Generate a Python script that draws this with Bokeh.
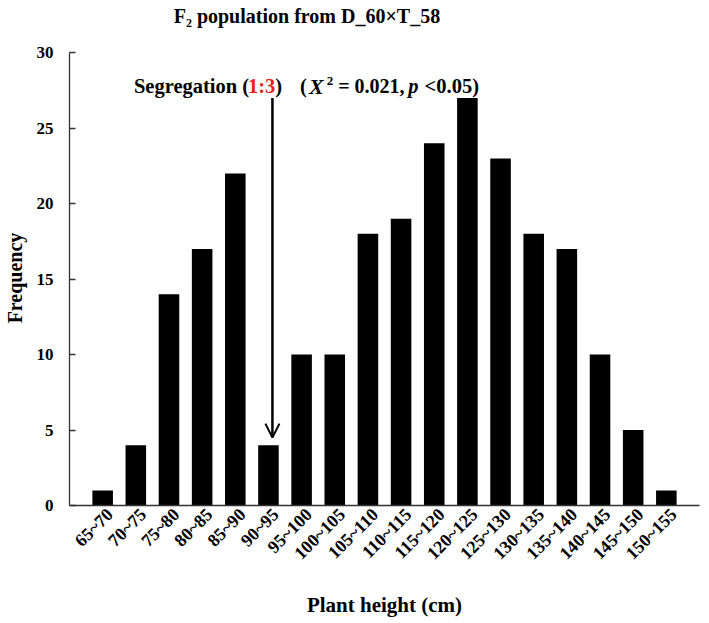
import math
from bokeh.plotting import figure
from bokeh.models import Range1d, FixedTicker, Label, Arrow, OpenHead, ColumnDataSource
from bokeh.embed import file_html
from bokeh.resources import INLINE

categories = ["65~70", "70~75", "75~80", "80~85", "85~90", "90~95", "95~100",
              "100~105", "105~110", "110~115", "115~120", "120~125", "125~130",
              "130~135", "135~140", "140~145", "145~150", "150~155"]
frequency = [1, 4, 14, 17, 22, 4, 10, 10, 18, 19, 24, 27, 23, 18, 17, 10, 5, 1]
y_ticks = [0, 5, 10, 15, 20, 25, 30]
title_text = "F\u2082 population from D_60\u00d7T_58"
x_label = "Plant height (cm)"
y_label = "Frequency"
arrow_category = "90~95"

FONT = "Liberation Serif"

positions = [i + 1 for i in range(len(categories))]
label_ticks = [x + 0.22 for x in positions]

# frame extends above the axis top (30) to hold the title as an in-frame label
y_max = 30
frame_h = 512
y_end = y_max * frame_h / 459.0

p = figure(width=701, height=620,
           x_range=Range1d(0, len(categories) + 1), y_range=Range1d(0, y_end),
           output_backend="svg", toolbar_location=None,
           min_border_left=64, min_border_right=2,
           min_border_top=0, min_border_bottom=620 - frame_h)
p.outline_line_color = None
p.xgrid.visible = False
p.ygrid.visible = False
p.background_fill_color = "white"

src = ColumnDataSource(dict(x=positions, top=frequency, cat=categories))
p.vbar(x="x", top="top", width=0.62, source=src, fill_color="black", line_color=None)

# x axis
xa = p.xaxis[0]
xa.ticker = FixedTicker(ticks=label_ticks)
xa.major_label_overrides = {x: c for x, c in zip(label_ticks, categories)}
xa.major_label_orientation = math.pi / 4
xa.major_tick_in = 0
xa.major_tick_out = 0
xa.minor_tick_in = 0
xa.minor_tick_out = 0
xa.major_label_standoff = 6
xa.major_label_text_font = FONT
xa.major_label_text_font_style = "bold"
xa.major_label_text_font_size = "18px"
xa.major_label_text_color = "black"
xa.axis_label = x_label
xa.axis_label_text_font = FONT
xa.axis_label_text_font_style = "bold"
xa.axis_label_text_font_size = "21px"
xa.axis_label_text_color = "black"
xa.axis_label_standoff = 20
xa.axis_line_color = "#333333"
xa.axis_line_width = 1.3

# y axis
ya = p.yaxis[0]
ya.bounds = (0, y_max)
ya.ticker = FixedTicker(ticks=y_ticks)
ya.major_tick_in = 6
ya.major_tick_out = 0
ya.minor_tick_in = 0
ya.minor_tick_out = 0
ya.major_tick_line_color = "#333333"
ya.major_tick_line_width = 1.3
ya.major_label_standoff = 16
ya.major_label_text_font = FONT
ya.major_label_text_font_style = "bold"
ya.major_label_text_font_size = "17px"
ya.major_label_text_color = "black"
# trailing no-break spaces centre the visible word on the 0-30 axis span
ya.axis_label = y_label + "\u00a0" * 10
ya.axis_label_text_font = FONT
ya.axis_label_text_font_style = "bold"
ya.axis_label_text_font_size = "20px"
ya.axis_label_text_color = "black"
ya.axis_label_standoff = 8
ya.axis_line_color = "#333333"
ya.axis_line_width = 1.3

# title
p.add_layout(Label(x=7.16, y=32.42, text=title_text, text_align="center",
                   text_baseline="alphabetic", text_font=FONT, text_font_style="bold",
                   text_font_size="20px", text_color="black"))

# annotation pieces
base_y = 27.78
pieces = [
    (1.944, base_y, "Segregation (", "black", "bold", "20.5px"),
    (5.383, base_y, "1:3", "#e8201e", "bold", "20.5px"),
    (6.208, base_y, ")", "black", "bold", "20.5px"),
    (6.955, base_y, "(", "black", "bold", "20.5px"),
    (7.22, base_y, "X", "black", "bold italic", "22px"),
    (7.76, 28.12, "2", "black", "bold", "13px"),
    (8.104, base_y, "= 0.021,", "black", "bold", "20px"),
    (10.215, base_y, "p", "black", "bold italic", "20.5px"),
    (10.71, base_y, "<0.05)", "black", "bold", "20.5px"),
]
for x, y, t, c, st, fs in pieces:
    p.add_layout(Label(x=x, y=y, text=t, text_align="left", text_baseline="alphabetic",
                       text_font=FONT, text_font_style=st, text_font_size=fs,
                       text_color=c))

ax = positions[categories.index(arrow_category)] + 0.12
p.add_layout(Arrow(x_start=ax, y_start=27.0, x_end=ax, y_end=4.5,
                   line_color="black", line_width=2.5,
                   end=OpenHead(size=14, line_color="black", line_width=2)))

open("out.html", "w").write(file_html(p, INLINE))
